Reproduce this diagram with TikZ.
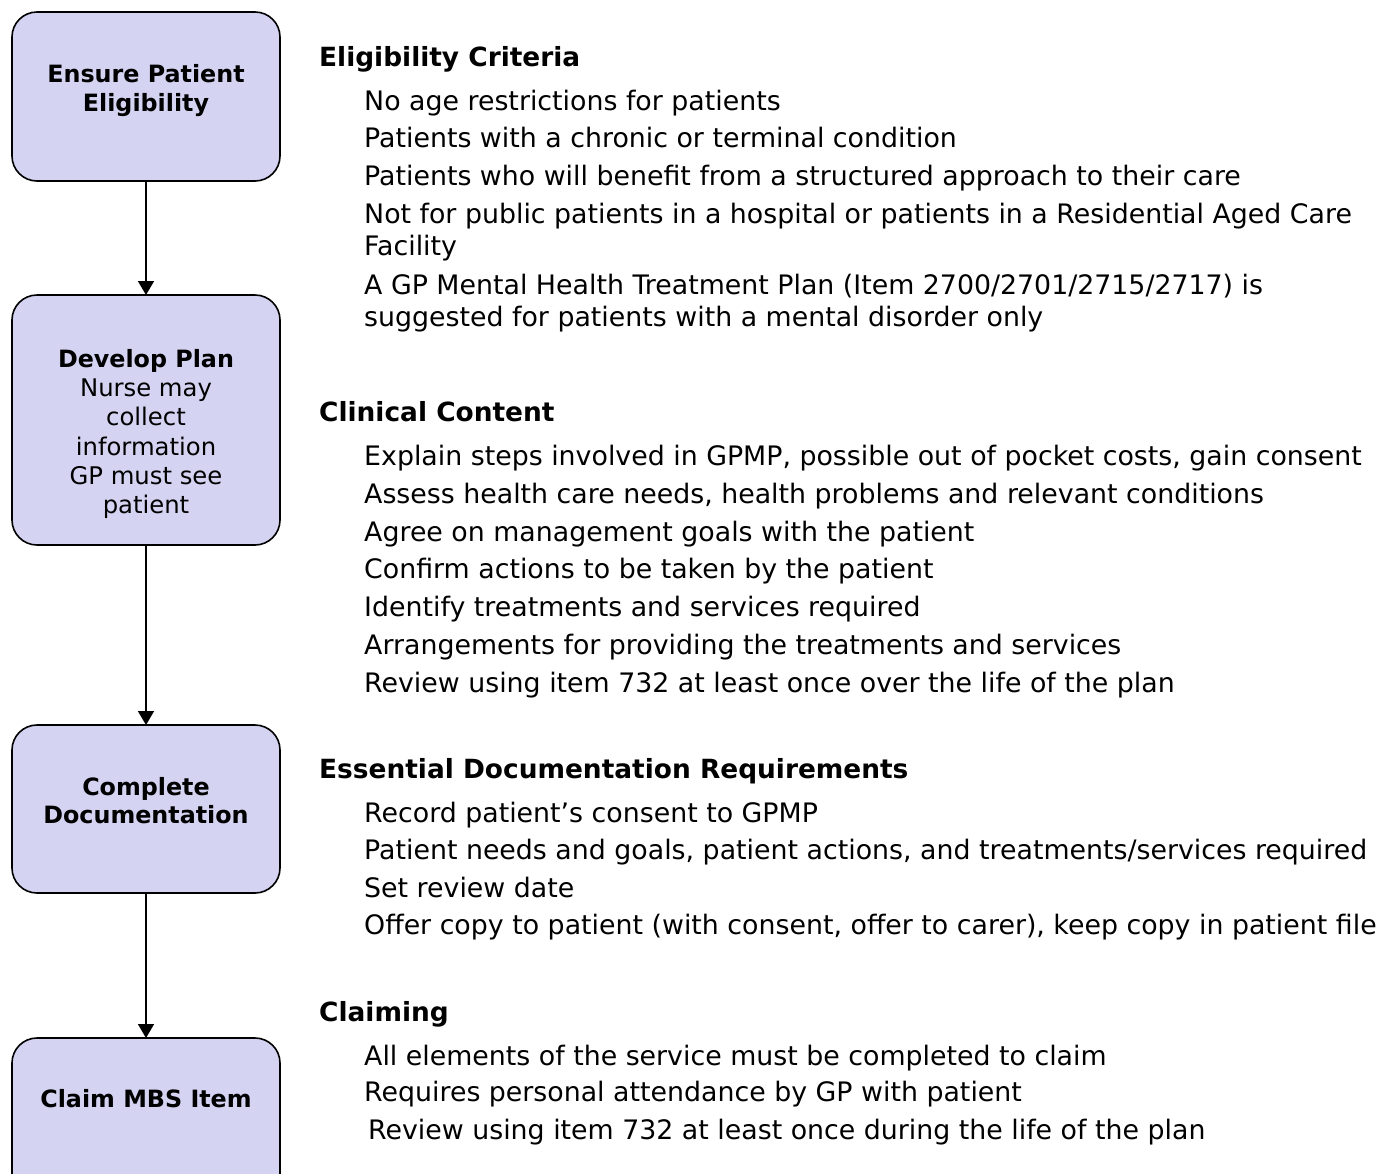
\documentclass[tikz,border=0pt]{standalone}
\usepackage{fontspec}
\setmainfont{DejaVu Sans}
\usetikzlibrary{arrows.meta}
\definecolor{boxfill}{RGB}{212,212,242}
\newcommand{\itemsize}{\fontsize{26.8}{30}\selectfont}
\newcommand{\headsize}{\fontsize{26.4}{30}\selectfont\bfseries}
\newcommand{\boxsize}{\fontsize{24.3}{29}\selectfont}
\newcommand{\boxbold}{\fontsize{23.8}{29}\selectfont\bfseries}
\tikzset{
  stepbox/.style={draw=black, line width=1.6pt, fill=boxfill, rounded corners=25pt},
  boxtext/.style={anchor=base, font=\boxsize, inner sep=0pt},
  boxhead/.style={anchor=base, font=\boxbold, inner sep=0pt},
  heading/.style={anchor=base west, font=\headsize, inner sep=0pt},
  itemtext/.style={anchor=base west, font=\itemsize, inner sep=0pt},
  flow/.style={line width=1.6pt, -{Triangle[width=16pt,length=14pt]}}
}
\begin{document}
\begin{tikzpicture}[x=1pt,y=-1pt]
\useasboundingbox (0,0) rectangle (1386,1173);
\clip (0,0) rectangle (1386,1173);
\fill[white] (0,0) rectangle (1386,1173);
% boxes
\draw[stepbox] (12,12) rectangle (280,181);
\coordinate (b1s) at (146,181);
\coordinate (b2n) at (146,295);
\draw[stepbox] (12,295) rectangle (280,545);
\coordinate (b2s) at (146,545);
\coordinate (b3n) at (146,725);
\draw[stepbox] (12,725) rectangle (280,893);
\coordinate (b3s) at (146,893);
\coordinate (b4n) at (146,1038);
\draw[stepbox] (12,1038) rectangle (280,1230);
% arrows
\draw[flow] (b1s) -- (b2n);
\draw[flow] (b2s) -- (b3n);
\draw[flow] (b3s) -- (b4n);
% box texts
\node[boxhead] (t1a) at (146,82.7) {Ensure Patient};
\node[boxhead] (t1b) at (146,111) {Eligibility};
\node[boxhead] (t2a) at (146,367) {Develop Plan};
\node[boxtext] (t2b) at (146,396) {Nurse may};
\node[boxtext] (t2c) at (146,425) {collect};
\node[boxtext] (t2d) at (146,455) {information};
\node[boxtext] (t2e) at (146,484) {GP must see};
\node[boxtext] (t2f) at (146,513) {patient};
\node[boxhead] (t3a) at (146,795) {Complete};
\node[boxhead] (t3b) at (146,823) {Documentation};
\node[boxhead] (t4a) at (146,1107) {Claim MBS Item};
% Eligibility
\node[heading] (h1) at (319,66) {Eligibility Criteria};
\node[itemtext] (e1) at (364,110) {No age restrictions for patients};
\node[itemtext] (e2) at (364,147) {Patients with a chronic or terminal condition};
\node[itemtext] (e3) at (364,185) {Patients who will benefit from a structured approach to their care};
\node[itemtext] (e4) at (364,223) {Not for public patients in a hospital or patients in a Residential Aged Care};
\node[itemtext] (e4b) at (364,255) {Facility};
\node[itemtext] (e5) at (364,294) {A GP Mental Health Treatment Plan (Item 2700/2701/2715/2717) is};
\node[itemtext] (e5b) at (364,326) {suggested for patients with a mental disorder only};
% Clinical
\node[heading] (h2) at (319,421) {Clinical Content};
\node[itemtext] (c1) at (364,465) {Explain steps involved in GPMP, possible out of pocket costs, gain consent};
\node[itemtext] (c2) at (364,503) {Assess health care needs, health problems and relevant conditions};
\node[itemtext] (c3) at (364,541) {Agree on management goals with the patient};
\node[itemtext] (c4) at (364,578) {Confirm actions to be taken by the patient};
\node[itemtext] (c5) at (364,616) {Identify treatments and services required};
\node[itemtext] (c6) at (364,654) {Arrangements for providing the treatments and services};
\node[itemtext] (c7) at (364,692) {Review using item 732 at least once over the life of the plan};
% Documentation
\node[heading] (h3) at (319,778) {Essential Documentation Requirements};
\node[itemtext] (d1) at (364,822) {Record patient’s consent to GPMP};
\node[itemtext] (d2) at (364,859) {Patient needs and goals, patient actions, and treatments/services required};
\node[itemtext] (d3) at (364,897) {Set review date};
\node[itemtext] (d4) at (364,934) {Offer copy to patient (with consent, offer to carer), keep copy in patient file};
% Claiming
\node[heading] (h4) at (319,1021) {Claiming};
\node[itemtext] (m1) at (364,1065) {All elements of the service must be completed to claim};
\node[itemtext] (m2) at (364,1101) {Requires personal attendance by GP with patient};
\node[itemtext] (m3) at (368,1139) {Review using item 732 at least once during the life of the plan};
\end{tikzpicture}
\end{document}
